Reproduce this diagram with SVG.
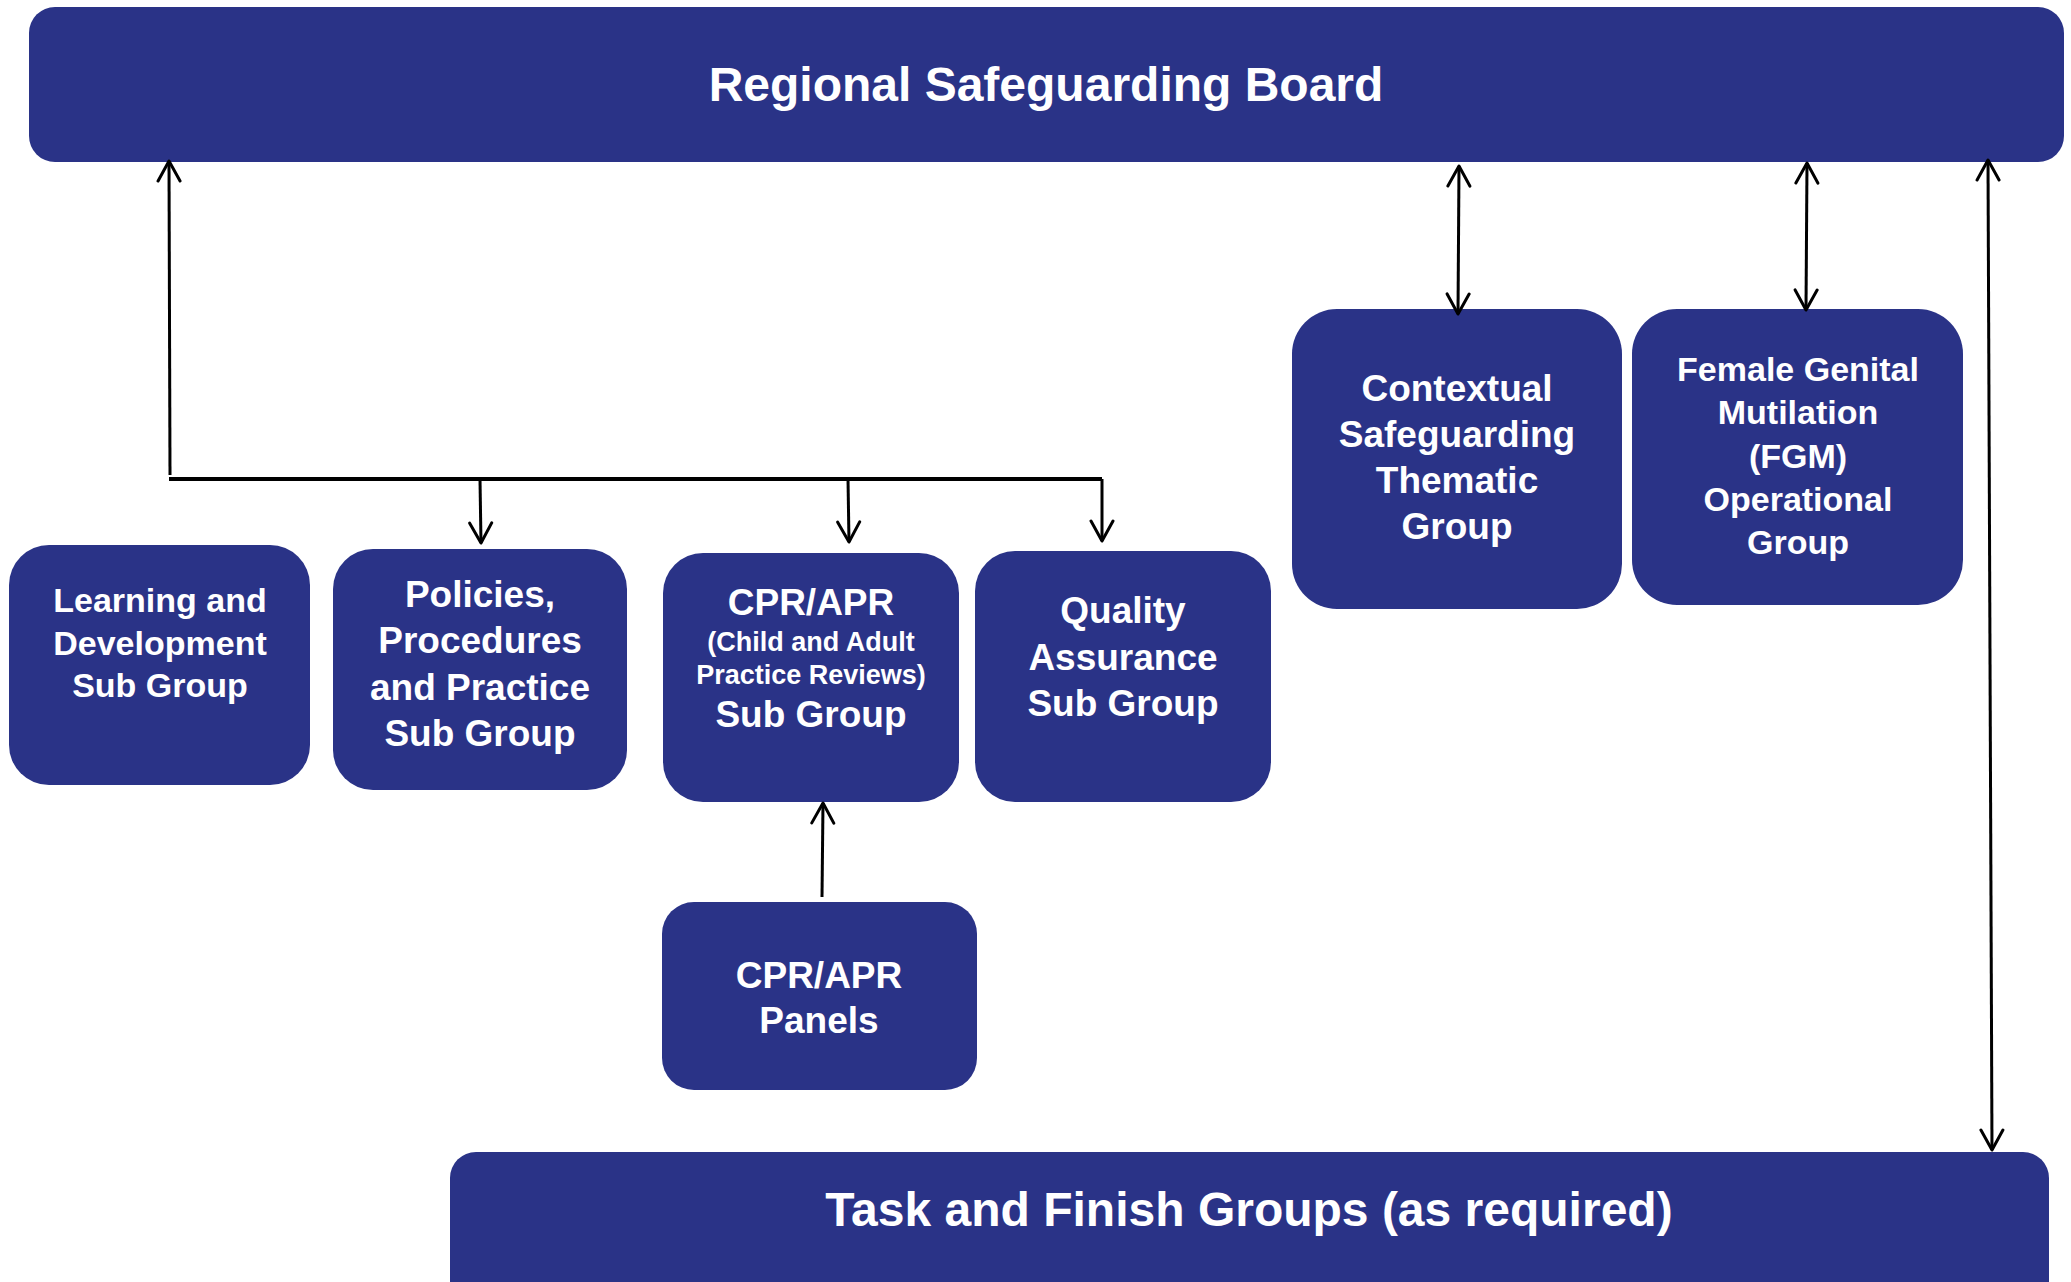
<svg xmlns="http://www.w3.org/2000/svg" width="2071" height="1282" viewBox="0 0 2071 1282">
<style>
.box{fill:#2a3387;}
.t{font-family:"Liberation Sans",Arial,sans-serif;font-weight:bold;fill:#ffffff;text-anchor:middle;}
.big{font-size:48px;}
.m{font-size:37px;}
.s{font-size:34px;}
.xs{font-size:27px;}
.c{fill:none;stroke:#000000;stroke-width:3;}
.bus{fill:none;stroke:#000000;stroke-width:4;}
</style>
<defs>
<marker id="ah" markerUnits="userSpaceOnUse" markerWidth="26" markerHeight="26" viewBox="0 0 26 26" refX="22" refY="13" orient="auto-start-reverse">
<path d="M2,2 L22,13 L2,24" fill="none" stroke="#000000" stroke-width="3" stroke-linecap="round" stroke-linejoin="round"/>
</marker>
</defs>
<rect width="2071" height="1282" fill="#ffffff"/>
<g id="board">
<rect class="box" x="29" y="7" width="2035" height="155" rx="26"/>
<text class="t big" x="1046" y="101">Regional Safeguarding Board</text>
</g>
<g id="learning">
<rect class="box" x="9" y="545" width="301" height="240" rx="40"/>
<text class="t s"><tspan x="160" y="612">Learning and</tspan><tspan x="160" y="655">Development</tspan><tspan x="160" y="697">Sub Group</tspan></text>
</g>
<g id="policies">
<rect class="box" x="333" y="549" width="294" height="241" rx="40"/>
<text class="t m"><tspan x="480" y="607">Policies,</tspan><tspan x="480" y="653">Procedures</tspan><tspan x="480" y="700">and Practice</tspan><tspan x="480" y="746">Sub Group</tspan></text>
</g>
<g id="cpr">
<rect class="box" x="663" y="553" width="296" height="249" rx="40"/>
<text class="t m" x="811" y="615">CPR/APR</text>
<text class="t xs"><tspan x="811" y="651">(Child and Adult</tspan><tspan x="811" y="684">Practice Reviews)</tspan></text>
<text class="t m" x="811" y="727">Sub Group</text>
</g>
<g id="quality">
<rect class="box" x="975" y="551" width="296" height="251" rx="40"/>
<text class="t m"><tspan x="1123" y="623">Quality</tspan><tspan x="1123" y="670">Assurance</tspan><tspan x="1123" y="716">Sub Group</tspan></text>
</g>
<g id="panels">
<rect class="box" x="662" y="902" width="315" height="188" rx="32"/>
<text class="t m"><tspan x="819" y="988">CPR/APR</tspan><tspan x="819" y="1033">Panels</tspan></text>
</g>
<g id="contextual">
<rect class="box" x="1292" y="309" width="330" height="300" rx="45"/>
<text class="t m"><tspan x="1457" y="401">Contextual</tspan><tspan x="1457" y="447">Safeguarding</tspan><tspan x="1457" y="493">Thematic</tspan><tspan x="1457" y="539">Group</tspan></text>
</g>
<g id="fgm">
<rect class="box" x="1632" y="309" width="331" height="296" rx="45"/>
<text class="t s"><tspan x="1798" y="381">Female Genital</tspan><tspan x="1798" y="424">Mutilation</tspan><tspan x="1798" y="468">(FGM)</tspan><tspan x="1798" y="511">Operational</tspan><tspan x="1798" y="554">Group</tspan></text>
</g>
<g id="taskfinish">
<rect class="box" x="450" y="1152" width="1599" height="170" rx="26"/>
<text class="t big" x="1249" y="1226">Task and Finish Groups (as required)</text>
</g>
<g id="connectors">
<line class="c" x1="170" y1="475" x2="169" y2="161" marker-end="url(#ah)"/>
<polyline class="bus" points="169,479 1102,479"/>
<line class="c" x1="480" y1="479" x2="481" y2="543" marker-end="url(#ah)"/>
<line class="c" x1="848" y1="479" x2="849" y2="542" marker-end="url(#ah)"/>
<line class="c" x1="1102" y1="479" x2="1102" y2="541" marker-end="url(#ah)"/>
<line class="c" x1="1459" y1="166" x2="1458" y2="314" marker-start="url(#ah)" marker-end="url(#ah)"/>
<line class="c" x1="1807" y1="163" x2="1806" y2="310" marker-start="url(#ah)" marker-end="url(#ah)"/>
<line class="c" x1="1988" y1="160" x2="1992" y2="1150" marker-start="url(#ah)" marker-end="url(#ah)"/>
<line class="c" x1="822" y1="897" x2="823" y2="803" marker-end="url(#ah)"/>
</g>
</svg>
